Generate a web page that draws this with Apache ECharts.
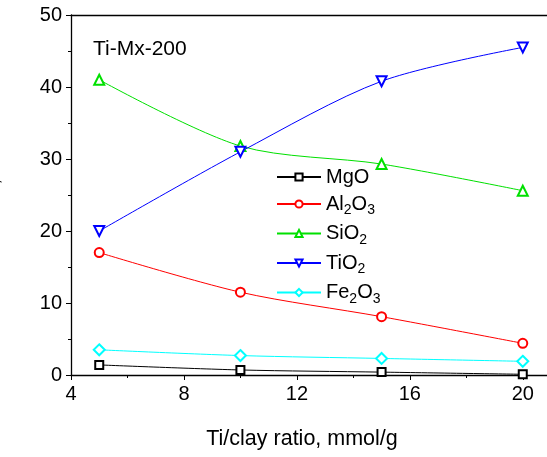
<!DOCTYPE html>
<html><head><meta charset="utf-8">
<script src="https://cdn.jsdelivr.net/npm/echarts@6/dist/echarts.min.js"></script>
<style>html,body{margin:0;padding:0;background:#fff}#c{width:547px;height:457px}</style>
</head><body><div id="c"></div>
<script>
const ratios = [5, 10, 15, 20];
const MgO = [1.4, 0.7, 0.4, 0.1];
const Al2O3 = [17.0, 11.5, 8.1, 4.4];
const SiO2 = [41.0, 31.8, 29.3, 25.6];
const TiO2 = [20.0, 31.0, 40.8, 45.5];
const Fe2O3 = [3.5, 2.7, 2.3, 1.9];
const seriesNames = ['MgO', 'Al2O3', 'SiO2', 'TiO2', 'Fe2O3'];
const legendLabels = {
  'MgO': 'MgO',
  'Al2O3': 'Al{s|2}O{s|3}',
  'SiO2': 'SiO{s|2}',
  'TiO2': 'TiO{s|2}',
  'Fe2O3': 'Fe{s|2}O{s|3}'
};
const FONT = 'Liberation Sans, Arial, sans-serif';
const pts = a => ratios.map((x, i) => [x, a[i]]);
function mk(name, data, color, symbol, size, rot) {
  return {
    name, type: 'line', data: pts(data), smooth: 0.3,
    symbol, symbolSize: size, symbolRotate: rot || 0,
    lineStyle: { color, width: 1 }, itemStyle: { color, borderWidth: 1 },
    emphasis: { disabled: true }
  };
}
const chart = echarts.init(document.getElementById('c'), null, { renderer: 'canvas' });
chart.setOption({
  animation: false,
  backgroundColor: '#fff',
  title: { text: 'Ti-Mx-200', left: 93, top: 39, padding: 0, textStyle: { fontFamily: FONT, fontSize: 21, fontWeight: 'normal', color: '#000' } },
  grid: { left: 71, top: 15, width: 480, height: 360, outerBoundsMode: 'none', containLabel: false },
  legend: {
    orient: 'vertical', left: 271, top: 161, itemWidth: 44, itemHeight: 9, itemGap: 5,
    data: seriesNames,
    formatter: n => legendLabels[n],
    textStyle: { fontFamily: FONT, fontSize: 20, color: '#000', lineHeight: 22,
      rich: { s: { fontFamily: FONT, fontSize: 14, color: '#000', padding: [13, 0, 0, 0] } } }
  },
  xAxis: [{
    type: 'value', min: 4, max: 21, interval: 4, position: 'bottom',
    name: 'Ti/clay ratio, mmol/g', nameLocation: 'middle', nameGap: 53,
    nameTextStyle: { fontFamily: FONT, fontSize: 21.5, color: '#000', padding: [0, 18, 0, 0] },
    axisLine: { lineStyle: { color: '#000', width: 1.3 } },
    axisTick: { show: true, length: 5, lineStyle: { color: '#000' } },
    minorTick: { show: true, splitNumber: 2, length: 3, lineStyle: { color: '#000' } },
    axisLabel: { fontFamily: FONT, fontSize: 20, color: '#000', margin: 9, showMaxLabel: false },
    splitLine: { show: false }
  }, {
    type: 'value', min: 4, max: 21, position: 'top',
    axisLine: { show: true, onZero: false, lineStyle: { color: '#000', width: 1.3 } },
    axisTick: { show: false }, axisLabel: { show: false }, splitLine: { show: false }
  }],
  yAxis: {
    type: 'value', min: 0, max: 50, interval: 10,
    name: 'Content, wt%', nameLocation: 'middle', nameGap: 68,
    nameTextStyle: { fontFamily: FONT, fontSize: 20, color: '#000' },
    axisLine: { show: true, lineStyle: { color: '#000', width: 1.3 } },
    axisTick: { show: true, length: 5, lineStyle: { color: '#000' } },
    minorTick: { show: true, splitNumber: 2, length: 3, lineStyle: { color: '#000' } },
    axisLabel: { fontFamily: FONT, fontSize: 20, color: '#000', margin: 9 },
    splitLine: { show: false }
  },
  series: [
    mk('MgO', MgO, '#000000', 'emptyRect', 8),
    mk('Al2O3', Al2O3, '#ff0000', 'emptyCircle', 9),
    mk('SiO2', SiO2, '#00e000', 'emptyTriangle', 10),
    mk('TiO2', TiO2, '#0000ff', 'emptyTriangle', 10, 180),
    mk('Fe2O3', Fe2O3, '#00ffff', 'emptyDiamond', 11)
  ]
});
</script></body></html>
